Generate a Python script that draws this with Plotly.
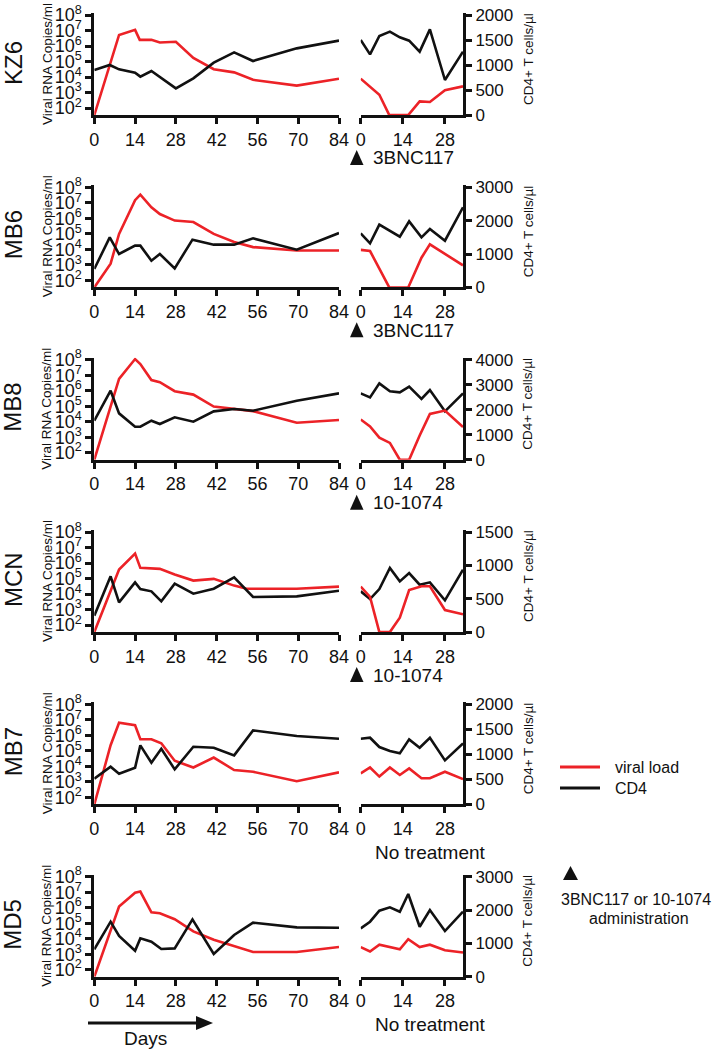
import plotly.graph_objects as go

W, H = 719, 1050
RED = "#EC2227"
BLK = "#111111"
FONT = "Liberation Sans, Arial, Helvetica, sans-serif"

animals = ["KZ6", "MB6", "MB8", "MCN", "MB7", "MD5"]
treatments = ["3BNC117", "3BNC117", "10-1074", "10-1074", "No treatment", "No treatment"]
cd4_max = [2000, 3000, 4000, 1500, 2000, 3000]
cd4_step = [500, 1000, 1000, 500, 500, 1000]
left_days_ticks = [0, 14, 28, 42, 56, 70, 84]
right_days_ticks = [0, 14, 28]
vl_tickvals = [1e2, 1e3, 1e4, 1e5, 1e6, 1e7, 1e8]
vl_ticktext = ["10<sup>2</sup>", "10<sup>3</sup>", "10<sup>4</sup>", "10<sup>5</sup>",
               "10<sup>6</sup>", "10<sup>7</sup>", "10<sup>8</sup>"]

# ---- KZ6 ----
KZ6_vl_days = [0, 8.5, 14, 15.6, 19.6, 22.5, 28, 34, 41, 48, 54.5, 69.5, 84]
KZ6_vl = [35, 5.2e6, 1.1e7, 2.5e6, 2.5e6, 1.7e6, 1.9e6, 1.7e5, 3.2e4, 2.0e4, 6.6e3, 2.8e3, 7.8e3]
KZ6_cd4_days = [0, 5.3, 8.5, 14, 15.8, 19.6, 28, 34, 41, 48, 54.5, 69.5, 84]
KZ6_cd4 = [900, 1000, 913, 847, 767, 880, 533, 733, 1047, 1253, 1080, 1333, 1487]
KZ6_tx_vl_days = [0, 6.2, 9.5, 15.8, 19.6, 23, 28, 34]
KZ6_tx_vl = [7.8e3, 720, 35, 35, 270, 245, 1.4e3, 2.5e3]
KZ6_tx_cd4_days = [0, 3.1, 6.2, 9.7, 13, 16.1, 19.6, 23, 28, 34]
KZ6_tx_cd4 = [1500, 1213, 1580, 1667, 1553, 1487, 1267, 1713, 700, 1267]

# ---- MB6 ----
MB6_vl_days = [0, 5.6, 8.5, 14, 15.8, 19.6, 22.5, 27.6, 34, 41, 48, 54.5, 69.5, 84]
MB6_vl = [35, 1.2e3, 1.0e5, 1.5e7, 3.4e7, 5.2e6, 1.9e6, 7.2e5, 5.8e5, 1.0e5, 3.0e4, 1.4e4, 8.5e3, 8.5e3]
MB6_cd4_days = [0, 5.3, 8.5, 14, 15.8, 19.6, 22.5, 27.6, 33.7, 41, 48, 54.5, 69.5, 84]
MB6_cd4 = [550, 1500, 1000, 1250, 1250, 800, 1000, 570, 1430, 1280, 1280, 1470, 1130, 1630]
MB6_tx_vl_days = [0, 3.1, 9.5, 15.8, 20.2, 23, 34]
MB6_tx_vl = [9.3e3, 7.8e3, 35, 35, 2.9e3, 2.1e4, 930]
MB6_tx_cd4_days = [0, 3.1, 6.2, 13, 16.1, 20.2, 23, 28, 34]
MB6_tx_cd4 = [1620, 1320, 1880, 1520, 1980, 1500, 1750, 1400, 2400]

# ---- MB8 ----
MB8_vl_days = [0, 8.5, 14, 15.8, 19.6, 22.5, 27.6, 34, 41, 48, 54.5, 69.5, 84]
MB8_vl = [35, 5.8e6, 1.1e8, 5.2e7, 4.9e6, 3.5e6, 9.3e5, 5.6e5, 9.5e4, 6.8e4, 4.8e4, 8.5e3, 1.3e4]
MB8_cd4_days = [0, 5.6, 8.5, 14, 15.8, 19.6, 22.5, 27.6, 34, 41, 48, 54.5, 69.5, 84]
MB8_cd4 = [1560, 2760, 1853, 1320, 1320, 1560, 1427, 1693, 1520, 1933, 2027, 1960, 2360, 2653]
MB8_tx_vl_days = [0, 3.1, 6.2, 9.7, 13, 16.1, 19.6, 23, 28, 34]
MB8_tx_vl = [1.4e4, 5.0e3, 930, 430, 35, 35, 1.3e3, 3.2e4, 5.2e4, 4.5e3]
MB8_tx_cd4_days = [0, 3.1, 6.2, 9.7, 13, 16.1, 20.2, 23, 28, 34]
MB8_tx_cd4 = [2653, 2493, 3053, 2733, 2693, 2920, 2427, 2787, 1933, 2653]

# ---- MCN ----
MCN_vl_days = [0, 8.5, 14, 15.8, 22.5, 27.6, 34, 41, 48, 52.3, 69.5, 84]
MCN_vl = [35, 3.8e5, 4.1e6, 4.9e5, 4.2e5, 1.8e5, 7.4e4, 9.5e4, 3.5e4, 2.2e4, 2.2e4, 3.0e4]
MCN_cd4_days = [0, 5.6, 8.5, 14, 15.8, 19.6, 23, 27.6, 34, 41, 48, 54.5, 69.5, 84]
MCN_cd4 = [245, 835, 445, 745, 645, 610, 460, 725, 575, 650, 820, 525, 535, 620]
MCN_tx_vl_days = [0, 3.1, 6.2, 9.7, 13, 16.1, 20.2, 23, 28, 34]
MCN_tx_vl = [3.0e4, 6.6e3, 35, 35, 300, 1.8e4, 3.2e4, 3.2e4, 930, 490]
MCN_tx_cd4_days = [0, 3.1, 6.2, 9.7, 13, 16.1, 19.6, 23, 28, 34]
MCN_tx_cd4 = [610, 495, 645, 960, 760, 885, 710, 745, 475, 935]

# ---- MB7 ----
MB7_vl_days = [0, 5.6, 8.5, 14, 15.8, 19.6, 23, 27.6, 34, 41, 48, 54.5, 69.5, 84]
MB7_vl = [35, 2.3e5, 6.6e6, 4.5e6, 5.6e5, 5.6e5, 3.1e5, 2.3e4, 8.5e3, 3.7e4, 5.8e3, 4.5e3, 1.1e3, 4.1e3]
MB7_cd4_days = [0, 5.6, 8.5, 14, 15.8, 19.6, 23, 27.6, 34, 41, 48, 54.5, 69.5, 84]
MB7_cd4 = [513, 753, 613, 733, 1180, 833, 1113, 700, 1153, 1133, 980, 1480, 1367, 1313]
MB7_tx_vl_days = [0, 3.1, 6.2, 9.7, 13, 16.1, 20.2, 23, 28, 34]
MB7_tx_vl = [3.5e3, 8.5e3, 2.2e3, 8.5e3, 2.8e3, 7.4e3, 1.7e3, 1.7e3, 4.5e3, 1.5e3]
MB7_tx_cd4_days = [0, 3.1, 6.2, 9.7, 13, 16.1, 19.6, 23, 28, 34]
MB7_tx_cd4 = [1313, 1333, 1147, 1067, 1020, 1300, 1133, 1333, 880, 1220]

# ---- MD5 ----
MD5_vl_days = [0, 8.5, 14, 15.8, 19.6, 22.5, 27.6, 34, 41, 48, 54.5, 69.5, 84]
MD5_vl = [35, 1.2e6, 9.3e6, 1.1e7, 5.1e5, 4.4e5, 1.8e5, 3.0e4, 8.5e3, 3.5e3, 1.4e3, 1.4e3, 2.9e3]
MD5_cd4_days = [0, 5.6, 8.5, 14, 15.8, 19.6, 23, 27.6, 33.7, 41, 48, 54.5, 69.5, 84]
MD5_cd4 = [820, 1650, 1220, 780, 1150, 1050, 830, 850, 1720, 680, 1250, 1620, 1480, 1470]
MD5_tx_vl_days = [0, 3.1, 6.2, 9.7, 13, 15.8, 19.6, 23, 28, 34]
MD5_tx_vl = [2.9e3, 1.5e3, 4.1e3, 2.9e3, 2.1e3, 9.3e3, 2.9e3, 4.1e3, 1.8e3, 1.3e3]
MD5_tx_cd4_days = [0, 3.1, 6.2, 9.7, 13, 15.8, 19.6, 23, 28, 34]
MD5_tx_cd4 = [1450, 1650, 1980, 2080, 1950, 2480, 1500, 2000, 1370, 1950]

series = {
    "KZ6": (KZ6_vl_days, KZ6_vl, KZ6_cd4_days, KZ6_cd4, KZ6_tx_vl_days, KZ6_tx_vl, KZ6_tx_cd4_days, KZ6_tx_cd4),
    "MB6": (MB6_vl_days, MB6_vl, MB6_cd4_days, MB6_cd4, MB6_tx_vl_days, MB6_tx_vl, MB6_tx_cd4_days, MB6_tx_cd4),
    "MB8": (MB8_vl_days, MB8_vl, MB8_cd4_days, MB8_cd4, MB8_tx_vl_days, MB8_tx_vl, MB8_tx_cd4_days, MB8_tx_cd4),
    "MCN": (MCN_vl_days, MCN_vl, MCN_cd4_days, MCN_cd4, MCN_tx_vl_days, MCN_tx_vl, MCN_tx_cd4_days, MCN_tx_cd4),
    "MB7": (MB7_vl_days, MB7_vl, MB7_cd4_days, MB7_cd4, MB7_tx_vl_days, MB7_tx_vl, MB7_tx_cd4_days, MB7_tx_cd4),
    "MD5": (MD5_vl_days, MD5_vl, MD5_cd4_days, MD5_cd4, MD5_tx_vl_days, MD5_tx_vl, MD5_tx_cd4_days, MD5_tx_cd4),
}

# ---- layout geometry (page pixels) ----
XL0, XL1 = 94.3, 339.0
XR0, XR1 = 360.7, 463.0
ROW0_BOTTOM, ROW_STEP, ROW_H = 115.0, 172.34, 102.0
VL_RANGE = [1.55, 8.13]


def px(x):
    return x / W


def py(y):
    return 1 - y / H


def nm(prefix, n):
    return prefix if n == 1 else f"{prefix}{n}"


fig = go.Figure()
layout = dict(width=W, height=H, margin=dict(l=0, r=0, t=0, b=0, autoexpand=False),
              paper_bgcolor="white", plot_bgcolor="white", showlegend=False,
              font=dict(family=FONT, color=BLK))
annotations = []
shapes = []

axis_common = dict(showgrid=False, zeroline=False, showline=True, linewidth=3,
                   linecolor=BLK, ticks="outside", ticklen=6, tickwidth=3,
                   tickcolor=BLK, fixedrange=True, automargin=False)

for i, name in enumerate(animals):
    vd, vv, cd, cv, tvd, tvv, tcd, tcv = series[name]
    bottom = ROW0_BOTTOM + ROW_STEP * i
    top = bottom - ROW_H
    dom = [py(bottom), py(top)]
    xl, xr = 2 * i + 1, 2 * i + 2
    y1, y2, y3, y4 = 4 * i + 1, 4 * i + 2, 4 * i + 3, 4 * i + 4
    cmax = cd4_max[i]

    layout[nm("xaxis", xl)] = dict(axis_common, domain=[px(XL0), px(XL1)], anchor=nm("y", y1),
                                   range=[0, 84], tickvals=left_days_ticks,
                                   tickfont=dict(size=18, family=FONT, color=BLK))
    layout[nm("xaxis", xr)] = dict(axis_common, domain=[px(XR0), px(XR1)], anchor=nm("y", y3),
                                   range=[0, 34], tickvals=right_days_ticks,
                                   tickfont=dict(size=18, family=FONT, color=BLK))
    layout[nm("yaxis", y1)] = dict(axis_common, domain=dom, anchor=nm("x", xl), type="log",
                                   range=VL_RANGE, tickvals=vl_tickvals, ticktext=vl_ticktext,
                                   tickfont=dict(size=18, family=FONT, color=BLK))
    layout[nm("yaxis", y2)] = dict(overlaying=nm("y", y1), anchor=nm("x", xl),
                                   range=[0, cmax * 1.02], visible=False, fixedrange=True,
                                   automargin=False)
    layout[nm("yaxis", y3)] = dict(axis_common, domain=dom, anchor=nm("x", xr), side="right",
                                   range=[0, cmax * 1.02],
                                   tickvals=list(range(0, cmax + 1, cd4_step[i])),
                                   tickfont=dict(size=17, family=FONT, color=BLK))
    layout[nm("yaxis", y4)] = dict(overlaying=nm("y", y3), anchor=nm("x", xr), type="log",
                                   range=VL_RANGE, visible=False, fixedrange=True,
                                   automargin=False)

    line_w = 2.6
    fig.add_trace(go.Scatter(x=cd, y=cv, mode="lines", line=dict(color=BLK, width=line_w),
                             xaxis=nm("x", xl), yaxis=nm("y", y2)))
    fig.add_trace(go.Scatter(x=vd, y=vv, mode="lines", line=dict(color=RED, width=line_w),
                             xaxis=nm("x", xl), yaxis=nm("y", y1)))
    fig.add_trace(go.Scatter(x=tcd, y=tcv, mode="lines", line=dict(color=BLK, width=line_w),
                             xaxis=nm("x", xr), yaxis=nm("y", y3)))
    fig.add_trace(go.Scatter(x=tvd, y=tvv, mode="lines", line=dict(color=RED, width=line_w),
                             xaxis=nm("x", xr), yaxis=nm("y", y4)))

    mid = (top + bottom) / 2
    # row label
    annotations.append(dict(x=px(13), y=py(mid - 1), xref="paper", yref="paper", text=name,
                            showarrow=False, textangle=-90, xanchor="center", yanchor="middle",
                            font=dict(size=24, family=FONT, color=BLK)))
    # axis titles
    annotations.append(dict(x=px(47), y=py(mid), xref="paper", yref="paper",
                            text="Viral RNA Copies/ml", showarrow=False, textangle=-90,
                            xanchor="center", yanchor="middle",
                            font=dict(size=13.5, family=FONT, color=BLK)))
    annotations.append(dict(x=px(528), y=py(mid - 5), xref="paper", yref="paper",
                            text="CD4+ T cells/\u00b5l", showarrow=False, textangle=-90,
                            xanchor="center", yanchor="middle",
                            font=dict(size=13.5, family=FONT, color=BLK)))
    # treatment label
    if treatments[i] == "No treatment":
        annotations.append(dict(x=px(430), y=py(bottom + 48), xref="paper", yref="paper",
                                text=treatments[i], showarrow=False, xanchor="center",
                                yanchor="middle", font=dict(size=19, family=FONT, color=BLK)))
    else:
        ty0, ty1 = bottom + 35, bottom + 50
        shapes.append(dict(type="path", xref="paper", yref="paper",
                           path=f"M {px(350)},{py(ty1)} L {px(363.5)},{py(ty1)} L {px(356.7)},{py(ty0)} Z",
                           fillcolor=BLK, line=dict(width=0)))
        annotations.append(dict(x=px(371), y=py(bottom + 43), xref="paper", yref="paper",
                                text=treatments[i], showarrow=False, xanchor="left",
                                yanchor="middle", font=dict(size=19, family=FONT, color=BLK)))

# ---- legend ----
shapes.append(dict(type="line", xref="paper", yref="paper", x0=px(560), x1=px(600),
                   y0=py(767), y1=py(767), line=dict(color=RED, width=3)))
shapes.append(dict(type="line", xref="paper", yref="paper", x0=px(560), x1=px(600),
                   y0=py(788), y1=py(788), line=dict(color=BLK, width=3)))
annotations.append(dict(x=px(613), y=py(767), xref="paper", yref="paper", text="viral load",
                        showarrow=False, xanchor="left", yanchor="middle",
                        font=dict(size=16, family=FONT, color=BLK)))
annotations.append(dict(x=px(613), y=py(788), xref="paper", yref="paper", text="CD4",
                        showarrow=False, xanchor="left", yanchor="middle",
                        font=dict(size=16, family=FONT, color=BLK)))
shapes.append(dict(type="path", xref="paper", yref="paper",
                   path=f"M {px(563)},{py(880)} L {px(578)},{py(880)} L {px(570.5)},{py(866)} Z",
                   fillcolor=BLK, line=dict(width=0)))
annotations.append(dict(x=px(636), y=py(899), xref="paper", yref="paper",
                        text="3BNC117 or 10-1074", showarrow=False, xanchor="center",
                        yanchor="middle", font=dict(size=16, family=FONT, color=BLK)))
annotations.append(dict(x=px(639), y=py(918), xref="paper", yref="paper",
                        text="administration", showarrow=False, xanchor="center",
                        yanchor="middle", font=dict(size=16, family=FONT, color=BLK)))

# ---- Days arrow ----
shapes.append(dict(type="line", xref="paper", yref="paper", x0=px(88), x1=px(198),
                   y0=py(1023), y1=py(1023), line=dict(color=BLK, width=3)))
shapes.append(dict(type="path", xref="paper", yref="paper",
                   path=f"M {px(196)},{py(1016)} L {px(213)},{py(1023)} L {px(196)},{py(1030)} Z",
                   fillcolor=BLK, line=dict(width=0)))
annotations.append(dict(x=px(145), y=py(1038), xref="paper", yref="paper", text="Days",
                        showarrow=False, xanchor="center", yanchor="middle",
                        font=dict(size=19, family=FONT, color=BLK)))

layout["annotations"] = annotations
layout["shapes"] = shapes
fig.update_layout(**layout)
fig.write_html("out.html", config={"displayModeBar": False},
               post_script="document.body.style.margin='0px';document.body.style.overflow='hidden';")
